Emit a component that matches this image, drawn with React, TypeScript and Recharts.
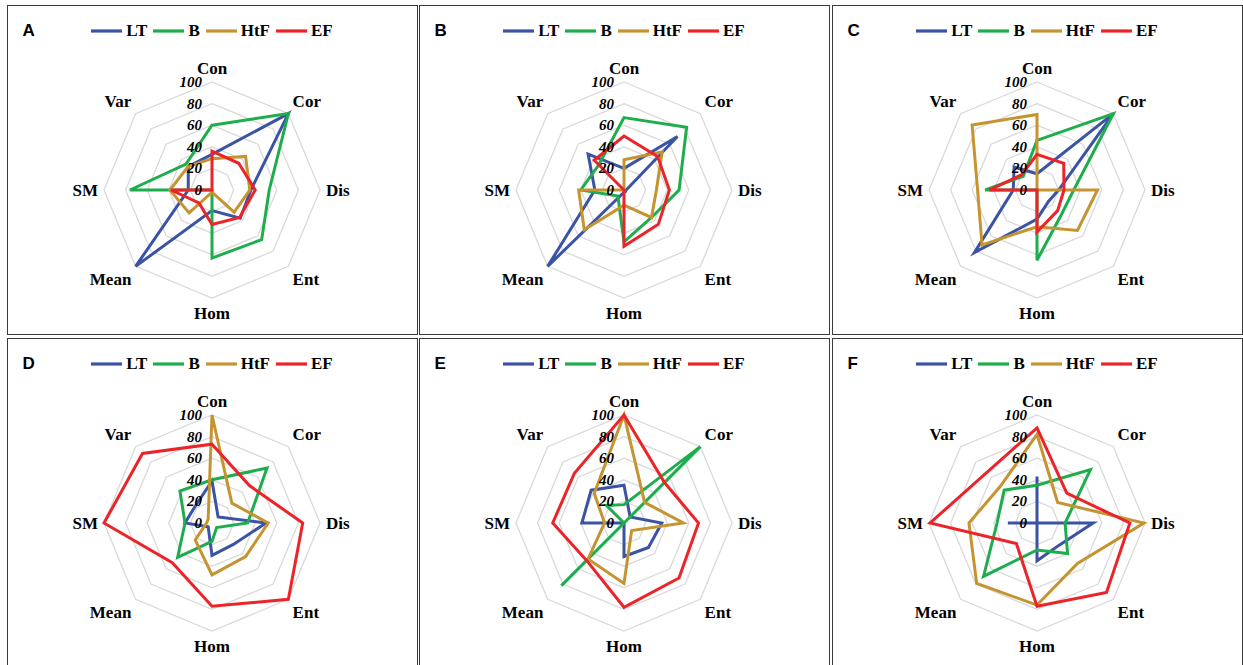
import React from 'react';
import { RadarChart, Radar, PolarGrid, PolarAngleAxis, PolarRadiusAxis, Legend } from 'recharts';

const axisLabels = ['Con', 'Cor', 'Dis', 'Ent', 'Hom', 'Mean', 'SM', 'Var'];
const seriesNames = ['LT', 'B', 'HtF', 'EF'];
const seriesColors = ['#3A53A4', '#1EAD4D', '#C59430', '#EC2429'];
const radiusTicks = [0, 20, 40, 60, 80, 100];
const panelLetters = ['A', 'B', 'C', 'D', 'E', 'F'];

// values per axis, order: Con, Cor, Dis, Ent, Hom, Mean, SM, Var
const aLT = [33, 100, 36, 37, 19, 100, 22, 31];
const aB = [60, 100, 53, 65, 63, 0, 76, 34];
const aHtF = [29, 44, 35, 29, 2, 30, 39, 31];
const aEF = [36, 35, 40, 36, 32, 17, 38, 0];

const bLT = [20, 70, 2, 2, 2, 100, 27, 47];
const bB = [67, 82, 51, 36, 48, 8, 40, 33];
const bHtF = [28, 50, 30, 36, 14, 52, 42, 0];
const bEF = [50, 44, 42, 45, 52, 0, 0, 39];

const cLT = [15, 100, 20, 15, 27, 82, 22, 30];
const cB = [46, 100, 34, 32, 65, 0, 48, 18];
const cHtF = [70, 0, 56, 53, 34, 72, 55, 85];
const cEF = [33, 35, 25, 27, 39, 0, 44, 20];

const dLT = [39, 8, 50, 28, 30, 5, 25, 22];
const dB = [40, 72, 33, 6, 17, 45, 25, 42];
const dHtF = [100, 26, 52, 44, 48, 22, 5, 5];
const dEF = [73, 49, 84, 100, 77, 52, 100, 91];

const eLT = [35, 8, 35, 32, 31, 0, 39, 43];
const eB = [17, 100, 0, 0, 0, 82, 0, 23];
const eHtF = [100, 27, 55, 10, 56, 47, 18, 39];
const eEF = [100, 53, 69, 72, 78, 49, 66, 65];

const fLT = [43, 0, 52, 29, 35, 0, 27, 0];
const fB = [35, 70, 26, 40, 25, 70, 37, 43];
const fHtF = [82, 27, 99, 53, 76, 79, 63, 48];
const fEF = [88, 39, 86, 91, 77, 27, 99, 66];

const panelSeries = [
  [aLT, aB, aHtF, aEF],
  [bLT, bB, bHtF, bEF],
  [cLT, cB, cHtF, cEF],
  [dLT, dB, dHtF, dEF],
  [eLT, eB, eHtF, eEF],
  [fLT, fB, fHtF, fEF],
];

const buildRows = (series: number[][]) =>
  axisLabels.map((axis, i) => {
    const row: Record<string, string | number> = { axis };
    seriesNames.forEach((n, k) => {
      row[n] = series[k][i];
    });
    return row;
  });

const SERIF = '"Liberation Serif", "Times New Roman", Times, serif';
const SANS = '"Liberation Sans", Arial, Helvetica, sans-serif';

const BOX_W = 411;
const BOX_H = 330;
const BORDER = 1.5;
const CHART_W = BOX_W - 2 * BORDER;
const CHART_H = BOX_H - 2 * BORDER;
const CX = 204;
const CY = 184;
const R = 108;
const boxLefts = [7, 419, 832];
const boxTops = [5, 338];

const AngleTick = (props: any) => {
  const { x, y, payload } = props;
  const a = (payload.coordinate * Math.PI) / 180;
  const c = Math.cos(a);
  const s = Math.sin(a);
  const tx = x - 2 * c;
  const ty = y + 2 * s + (s > 0.1 ? -8 : s < -0.1 ? 9 : 0);
  const anchor = c > 0.1 ? 'start' : c < -0.1 ? 'end' : 'middle';
  return (
    <text
      x={tx}
      y={ty}
      textAnchor={anchor}
      dominantBaseline="central"
      fontFamily={SERIF}
      fontWeight="bold"
      fontSize={17}
      fill="#000"
    >
      {payload.value}
    </text>
  );
};

const RadiusTick = (props: any) => {
  const { x, y, payload } = props;
  return (
    <text
      x={x - 10}
      y={y}
      textAnchor="end"
      dominantBaseline="central"
      fontFamily={SERIF}
      fontWeight="bold"
      fontStyle="italic"
      fontSize={15}
      fill="#000"
    >
      {payload.value}
    </text>
  );
};

const LegendContent = () => (
  <div style={{ display: 'flex', justifyContent: 'center', alignItems: 'center', height: 20 }}>
    {seriesNames.map((name, i) => (
      <div
        key={name}
        style={{ display: 'flex', alignItems: 'center', marginRight: i < seriesNames.length - 1 ? 6 : 0 }}
      >
        <svg width={31} height={6} style={{ display: 'block' }}>
          <line x1={0} y1={3} x2={31} y2={3} stroke={seriesColors[i]} strokeWidth={3.2} />
        </svg>
        <span
          style={{
            marginLeft: 4,
            fontFamily: SERIF,
            fontWeight: 'bold',
            fontSize: 17,
            color: '#000',
            lineHeight: '20px',
          }}
        >
          {name}
        </span>
      </div>
    ))}
  </div>
);

const Panel = ({ index }: { index: number }) => {
  const rows = buildRows(panelSeries[index]);
  const col = index % 3;
  const rowIdx = Math.floor(index / 3);
  return (
    <div
      style={{
        position: 'absolute',
        left: boxLefts[col],
        top: boxTops[rowIdx],
        width: BOX_W,
        height: BOX_H,
        boxSizing: 'border-box',
        border: `${BORDER}px solid #3a3a3a`,
        background: '#fff',
        overflow: 'hidden',
      }}
    >
      <RadarChart
        width={CHART_W}
        height={CHART_H}
        data={rows}
        cx={CX}
        cy={CY}
        outerRadius={R}
        margin={{ top: 0, right: 0, bottom: 0, left: 0 }}
      >
        <PolarGrid gridType="polygon" radialLines={false} stroke="#d9d9d9" strokeWidth={1.3} />
        <PolarAngleAxis dataKey="axis" tick={AngleTick} tickLine={false} axisLine={false} />
        {seriesNames.map((name, k) => (
          <Radar
            key={name}
            name={name}
            dataKey={name}
            stroke={seriesColors[k]}
            strokeWidth={3}
            fill="none"
            fillOpacity={0}
            dot={false}
            isAnimationActive={false}
          />
        ))}
        <PolarRadiusAxis
          angle={90}
          domain={[0, 100]}
          ticks={radiusTicks}
          tickCount={6}
          axisLine={false}
          tickLine={false}
          tick={RadiusTick}
        />
        <Legend
          verticalAlign="top"
          align="center"
          content={LegendContent}
          wrapperStyle={{ top: 15, left: 0, width: CHART_W }}
        />
      </RadarChart>
      <div
        style={{
          position: 'absolute',
          left: 14.5,
          top: 14.5,
          fontFamily: SANS,
          fontWeight: 'bold',
          fontSize: 17,
          lineHeight: '20px',
          color: '#000',
        }}
      >
        {panelLetters[index]}
      </div>
    </div>
  );
};

export default function App() {
  return (
    <div
      style={{
        position: 'absolute',
        left: 0,
        top: 0,
        width: 1243,
        height: 665,
        overflow: 'hidden',
        background: '#fff',
      }}
    >
      {panelLetters.map((_, i) => (
        <Panel key={i} index={i} />
      ))}
    </div>
  );
}
